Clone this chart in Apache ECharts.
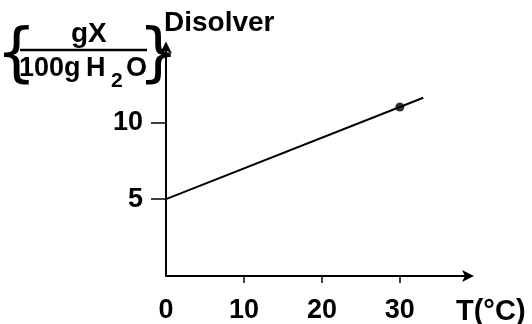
<!DOCTYPE html>
<html><head><meta charset="utf-8">
<script src="https://cdn.jsdelivr.net/npm/echarts@6/dist/echarts.min.js"></script>
<style>html,body{margin:0;padding:0;background:#fff}#c{width:532px;height:324px}</style>
</head><body><div id="c"></div>
<script>
const temps = [0, 30, 33];
const solubility = [5, 11, 11.6];
const markedPoint = [[30, 11]];
const xTicks = [0, 10, 20, 30];
const yTicks = [5, 10];
const xTitle = 'T(°C)';
const yTitle = 'Disolver';

const F = '"Liberation Sans", Arial, sans-serif';
function txt(text, left, top, size, extra) {
  return Object.assign({type: 'text', left: left, top: top,
    style: {text: text, fontFamily: F, fontWeight: 'bold', fontSize: size, fill: '#000'}}, extra || {});
}
const chart = echarts.init(document.getElementById('c'), null, {renderer: 'canvas'});
chart.setOption({
  animation: false,
  backgroundColor: '#fff',
  grid: {left: 166, top: 45.5, width: 304, height: 232.5},
  xAxis: {
    type: 'value', min: 0, max: 39, splitLine: {show: false},
    axisLine: {lineStyle: {color: '#000', width: 2}, symbol: ['none', 'arrow'], symbolSize: [9, 12], symbolOffset: [0, 4]},
    axisTick: {customValues: [10, 20, 30], length: 7, lineStyle: {color: '#000', width: 1.5}},
    axisLabel: {customValues: xTicks, color: '#000', fontFamily: F, fontWeight: 'bold', fontSize: 27, margin: 21}
  },
  yAxis: {
    type: 'value', min: 0, max: 15, splitLine: {show: false},
    axisLine: {lineStyle: {color: '#000', width: 2}, symbol: ['none', 'arrow'], symbolSize: [9, 12], symbolOffset: [0, 4]},
    axisTick: {customValues: yTicks, length: 15, lineStyle: {color: '#000', width: 1.5}},
    axisLabel: {customValues: yTicks, color: '#000', fontFamily: F, fontWeight: 'bold', fontSize: 27, margin: 23}
  },
  series: [
    {type: 'line', data: temps.map((t, i) => [t, solubility[i]]), showSymbol: false,
     lineStyle: {color: '#000', width: 2}},
    {type: 'scatter', data: markedPoint, symbol: 'circle', symbolSize: 9, itemStyle: {color: '#000'}}
  ],
  graphic: [
    txt(yTitle, 164, 9, 28),
    txt(xTitle, 456, 297, 29),
    txt('gX', 71, 20, 28),
    {type: 'line', shape: {x1: 20, y1: 50, x2: 147, y2: 50}, style: {stroke: '#000', lineWidth: 2.5}},
    txt('100g', 19, 55, 27),
    txt('H', 86, 55, 27),
    txt('2', 111, 71, 21),
    txt('O', 126, 55, 27),
    {type: 'text', left: -4, top: 25, style: {text: '{', fontFamily: '"DejaVu Sans", sans-serif', fontSize: 64, fill: '#000'}},
    {type: 'text', left: 138, top: 25, style: {text: '}', fontFamily: '"DejaVu Sans", sans-serif', fontSize: 64, fill: '#000'}}
  ]
});
</script></body></html>
